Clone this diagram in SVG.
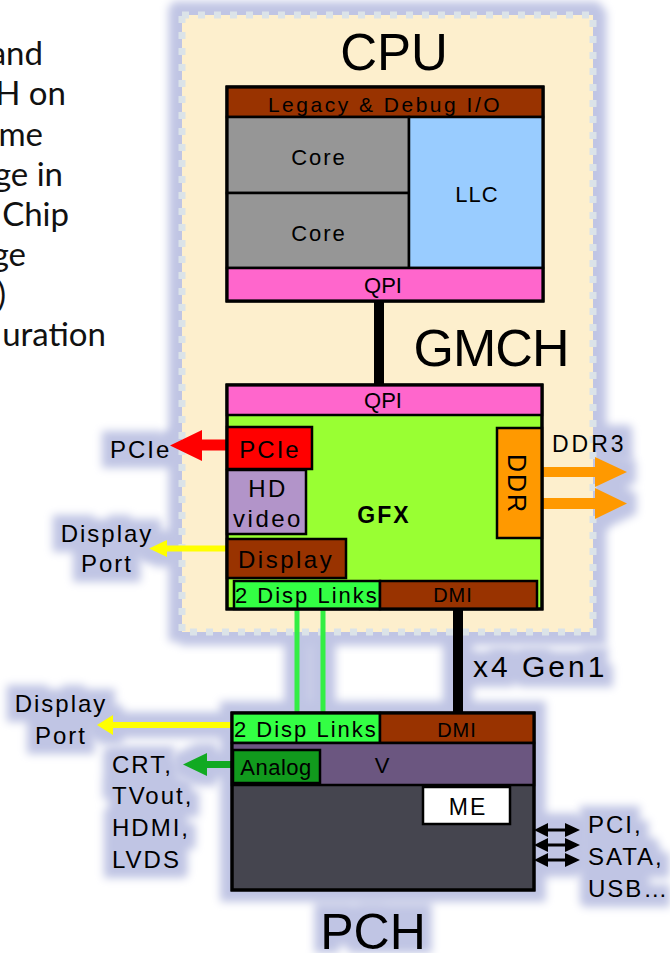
<svg xmlns="http://www.w3.org/2000/svg" width="670" height="953" viewBox="0 0 670 953">
<style>
.t{font-family:"Liberation Sans",Arial,sans-serif;fill:#000}
.side{font-family:Lato,"Noto Sans",sans-serif;font-size:33px;fill:#111;text-anchor:end}
.big{font-size:51px;text-anchor:middle}
.lbl{font-size:24px;letter-spacing:2px}
.m{text-anchor:middle}
.b{stroke:#000;stroke-width:2.5}
</style>
<defs>
<filter id="halo" filterUnits="userSpaceOnUse" x="0" y="0" width="670" height="953">
<feMorphology in="SourceAlpha" operator="dilate" radius="9.5" result="d"/>
<feGaussianBlur in="d" stdDeviation="4.5" result="b"/>
<feFlood flood-color="#c0c5e4"/>
<feComposite in2="b" operator="in"/>
</filter>
</defs>
<rect width="670" height="953" fill="#fff"/>

<!-- side text (cut off at left) -->
<g id="side-text">
<text class="side" x="43" y="65">and</text>
<text class="side" x="66" y="105">H on</text>
<text class="side" x="43" y="146">me</text>
<text class="side" x="63" y="186">ge in</text>
<text class="side" x="69" y="226">Chip</text>
<text class="side" x="26" y="266">ge</text>
<text class="side" x="6" y="306">)</text>
<text class="side" x="106" y="346">uration</text>
</g>

<!-- glow layer (halos of the elements below) -->
<g id="glow">
<use href="#package" filter="url(#halo)"/>
<use href="#connectors" filter="url(#halo)"/>
<use href="#pch" filter="url(#halo)"/>
<use href="#gmch-labels" filter="url(#halo)"/>
<use href="#pch-labels" filter="url(#halo)"/>
</g>

<!-- CPU package -->
<g id="package">
<rect x="182" y="15" width="411" height="617" fill="#fdefcd" stroke="#dbe3e8" stroke-width="7" stroke-dasharray="7 9"/>
<text class="t big" x="394" y="70">CPU</text>
<text class="t" x="491" y="366" font-size="52" text-anchor="middle" letter-spacing="-1">GMCH</text>
</g>

<!-- connectors -->
<g id="connectors">
<line x1="379" y1="301" x2="379" y2="385" stroke="#000" stroke-width="10"/>
<line x1="297" y1="609" x2="297" y2="713" stroke="#33ee44" stroke-width="5"/>
<line x1="323" y1="609" x2="323" y2="713" stroke="#33ee44" stroke-width="5"/>
<line x1="458" y1="609" x2="458" y2="713" stroke="#000" stroke-width="10"/>
<text class="t" x="473" y="677" font-size="30" letter-spacing="3">x4 Gen1</text>
<!-- PCIe arrow -->
<path d="M227,439.5 L202,439.5 L202,430 L170,445.5 L202,461 L202,450.5 L227,450.5 Z" fill="#ff0000"/>
<!-- GMCH display port arrow -->
<path d="M227,545.5 L167,545.5 L167,540 L149,548.5 L167,557 L167,551.5 L227,551.5 Z" fill="#ffff00"/>
<!-- DDR3 arrows -->
<path d="M542,467 L595,467 L595,457 L627,472 L595,487 L595,477 L542,477 Z" fill="#ff9900"/>
<path d="M542,498 L595,498 L595,488 L627,503.5 L595,519 L595,509 L542,509 Z" fill="#ff9900"/>
<!-- PCH display port arrow -->
<path d="M232,722 L113,722 L113,715 L97,725 L113,735 L113,728 L232,728 Z" fill="#ffff00"/>
<!-- Analog arrow -->
<path d="M232,761 L207,761 L207,753 L183,764.5 L207,776 L207,768 L232,768 Z" fill="#11aa22"/>
<!-- PCI/SATA/USB double arrows -->
<g fill="#000">
<path d="M534,830 L548,823 L548,828.5 L565,828.5 L565,823 L580,830 L565,837 L565,831.5 L548,831.5 L548,837 Z"/>
<path d="M534,845 L548,838 L548,843.5 L565,843.5 L565,838 L580,845 L565,852 L565,846.5 L548,846.5 L548,852 Z"/>
<path d="M534,860 L548,853 L548,858.5 L565,858.5 L565,853 L580,860 L565,867 L565,861.5 L548,861.5 L548,867 Z"/>
</g>
</g>

<!-- CPU -->
<g id="cpu">
<rect x="227" y="87" width="316" height="214" fill="#969696" stroke="#000" stroke-width="3"/>
<rect class="b" x="227" y="87" width="316" height="30" fill="#993300"/>
<rect class="b" x="227" y="117" width="182" height="76" fill="#969696"/>
<rect class="b" x="227" y="193" width="182" height="75" fill="#969696"/>
<rect class="b" x="409" y="117" width="134" height="151" fill="#99ccff"/>
<rect class="b" x="227" y="268" width="316" height="33" fill="#ff66cc"/>
<rect x="227" y="87" width="316" height="214" fill="none" stroke="#000" stroke-width="3"/>
<text class="t m" x="385" y="112" font-size="21" letter-spacing="2.5">Legacy &amp; Debug I/O</text>
<text class="t m" x="319" y="165" font-size="22" letter-spacing="2">Core</text>
<text class="t m" x="319" y="241" font-size="22" letter-spacing="2">Core</text>
<text class="t m" x="477" y="202" font-size="22" letter-spacing="1">LLC</text>
<text class="t m" x="383" y="293" font-size="22">QPI</text>
</g>

<!-- GMCH -->
<g id="gmch">
<rect x="227" y="385" width="315" height="224" fill="#99ff33" stroke="#000" stroke-width="3"/>
<rect class="b" x="227" y="385" width="315" height="30" fill="#ff66cc"/>
<text class="t m" x="383" y="408" font-size="22">QPI</text>
<rect class="b" x="227" y="427" width="85" height="42" fill="#ff0000"/>
<text class="t m" x="270" y="458" font-size="24" letter-spacing="2">PCIe</text>
<rect class="b" x="227" y="470" width="79" height="64" fill="#b294c9"/>
<text class="t m" x="268" y="497" font-size="24" letter-spacing="2.5">HD</text>
<text class="t m" x="268" y="527" font-size="24" letter-spacing="2.5">video</text>
<rect class="b" x="227" y="539" width="119" height="39" fill="#993300"/>
<text class="t" x="238" y="568" font-size="24" letter-spacing="2.5">Display</text>
<rect class="b" x="234" y="581" width="146" height="28" fill="#33ff44"/>
<text class="t" x="235" y="603" font-size="22" letter-spacing="2">2 Disp Links</text>
<rect class="b" x="380" y="581" width="157" height="28" fill="#993300"/>
<text class="t m" x="453" y="602" font-size="20" letter-spacing="1">DMI</text>
<rect class="b" x="497" y="428" width="45" height="110" fill="#ff9900"/>
<text class="t m" transform="translate(517,483) rotate(90)" x="1" y="9" font-size="25" letter-spacing="2">DDR</text>
<text class="t m" x="384" y="523" font-size="23" font-weight="bold" letter-spacing="2">GFX</text>
<rect x="227" y="385" width="315" height="224" fill="none" stroke="#000" stroke-width="3"/>
</g>

<!-- GMCH side labels -->
<g id="gmch-labels">
<text class="t lbl" x="110" y="458">PCIe</text>
<text class="t lbl m" x="107" y="542" letter-spacing="2.5">Display</text>
<text class="t lbl m" x="107" y="572" letter-spacing="2.5">Port</text>
<text class="t" x="552" y="452" font-size="23" letter-spacing="3">DDR3</text>
</g>

<!-- PCH -->
<g id="pch">
<rect x="232" y="713" width="302" height="177" fill="#45454f" stroke="#000" stroke-width="3"/>
<rect class="b" x="232" y="713" width="148" height="30" fill="#33ff44"/>
<text class="t" x="234" y="737" font-size="22" letter-spacing="2">2 Disp Links</text>
<rect class="b" x="380" y="713" width="154" height="30" fill="#993300"/>
<text class="t m" x="457" y="737" font-size="20" letter-spacing="1">DMI</text>
<rect class="b" x="232" y="743" width="302" height="42" fill="#6b5680"/>
<text class="t m" x="382" y="773" font-size="22">V</text>
<rect class="b" x="233" y="750" width="87" height="33" fill="#119a1d"/>
<text class="t m" x="276" y="775" font-size="22" letter-spacing="0.5">Analog</text>
<rect class="b" x="423" y="787" width="87" height="37" fill="#ffffff"/>
<text class="t m" x="468" y="815" font-size="23" letter-spacing="2">ME</text>
<rect x="232" y="713" width="302" height="177" fill="none" stroke="#000" stroke-width="3"/>
<text class="t" x="373" y="949" font-size="50" text-anchor="middle">PCH</text>
</g>

<!-- PCH side labels -->
<g id="pch-labels">
<text class="t lbl m" x="61" y="712" letter-spacing="2.5">Display</text>
<text class="t lbl m" x="61" y="744" letter-spacing="2.5">Port</text>
<text class="t lbl" x="112" y="773">CRT,</text>
<text class="t lbl" x="112" y="804">TVout,</text>
<text class="t lbl" x="112" y="836">HDMI,</text>
<text class="t lbl" x="112" y="868">LVDS</text>
<text class="t lbl" x="588" y="833">PCI,</text>
<text class="t lbl" x="588" y="865">SATA,</text>
<text class="t lbl" x="588" y="897">USB…</text>
</g>
</svg>
